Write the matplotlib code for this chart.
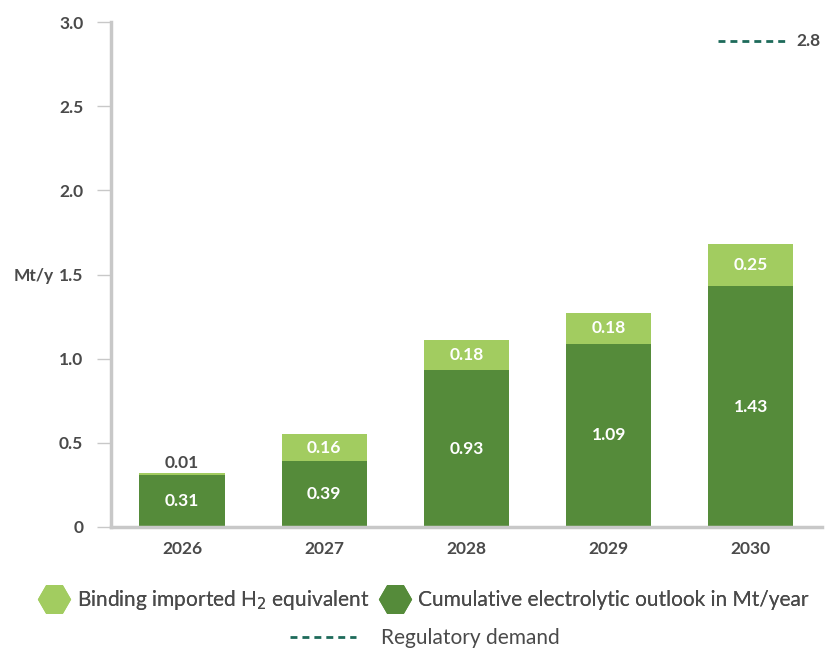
import matplotlib.pyplot as plt
from matplotlib.lines import Line2D

years = ["2026", "2027", "2028", "2029", "2030"]
electrolytic = [0.31, 0.39, 0.93, 1.09, 1.43]
imported = [0.01, 0.16, 0.18, 0.18, 0.25]
regulatory_demand = 2.8
yticks = [0, 0.5, 1.0, 1.5, 2.0, 2.5, 3.0]
ytick_labels = ["0", "0.5", "1.0", "1.5", "2.0", "2.5", "3.0"]

dark = "#558b3a"
light = "#a2cc60"
teal = "#1d6a5a"
txt = "#4a4a4a"
plt.rcParams['font.family'] = ['Lato', 'DejaVu Sans']
BW = "bold"
DASH = (2.5, 1.8)

fig = plt.figure(figsize=(8.26, 6.51), dpi=100)
ax = fig.add_axes([0.1344, 0.1905, 0.8606, 0.7755])
x = list(range(len(years)))
w = 0.6
ax.bar(x, electrolytic, width=w, color=dark, zorder=2)
ax.bar(x, imported, width=w, bottom=electrolytic, color=light, zorder=2)

for i in x:
    e, m = electrolytic[i], imported[i]
    ax.text(i, e / 2, f"{e:.2f}", ha="center", va="center", color="white",
            fontsize=12.5, fontweight=BW)
    if m < 0.05:
        ax.text(i, e + m + 0.06, f"{m:.2f}", ha="center", va="center", color=txt,
                fontsize=12.5, fontweight=BW)
    else:
        ax.text(i, e + m / 2, f"{m:.2f}", ha="center", va="center", color="white",
                fontsize=12.5, fontweight=BW)

# regulatory demand
ax.plot([4 - 0.23, 4 + 0.27], [regulatory_demand + 0.09] * 2, color=teal, lw=2,
        dashes=DASH)
ax.text(4 + 0.32, regulatory_demand + 0.09, f"{regulatory_demand}", ha="left", va="center",
        color=txt, fontsize=12.5, fontweight=BW)

ax.set_xlim(-0.5, 4.5)
ax.set_ylim(0, 3.0)
ax.set_yticks(yticks)
ax.set_yticklabels(ytick_labels, fontsize=12.5, fontweight=BW, color=txt)
ax.set_xticks(x)
ax.set_xticklabels(years, fontsize=12.5, fontweight=BW, color=txt)
for s in ["top", "right"]:
    ax.spines[s].set_visible(False)
ax.spines["left"].set_color("#c8c8c8")
ax.spines["left"].set_linewidth(2.5)
ax.spines["bottom"].set_color("#c8c8c8")
ax.spines["bottom"].set_linewidth(2.5)
ax.tick_params(axis="y", length=10, width=1, color="#c8c8c8", pad=10)
ax.tick_params(axis="x", length=0, pad=10)

fig.text(14 / 826, 1 - 276 / 651, "Mt/y", ha="left", va="center", fontsize=12.5,
         fontweight=BW, color=txt)

# legend
handles = [
    Line2D([], [], marker="H", ms=24, color=light, lw=0, markeredgewidth=0),
    Line2D([], [], marker="H", ms=24, color=dark, lw=0, markeredgewidth=0),
]
leg1 = fig.legend(handles, ["Binding imported H$_2$ equivalent",
                            "Cumulative electrolytic outlook in Mt/year"],
                  loc="center", bbox_to_anchor=(424 / 826, 1 - 600 / 651), ncol=2,
                  frameon=False, fontsize=15, handletextpad=0.4, columnspacing=0.5,
                  labelcolor=txt, handlelength=1.4)
h2 = [Line2D([], [], color=teal, lw=2, dashes=DASH)]
fig.legend(h2, ["Regulatory demand"], loc="center",
           bbox_to_anchor=(425 / 826, 1 - 638 / 651), frameon=False, fontsize=15,
           labelcolor=txt, handlelength=3.2, handletextpad=1.2)
fig.add_artist(leg1)

fig.savefig("out.png", dpi=100)
